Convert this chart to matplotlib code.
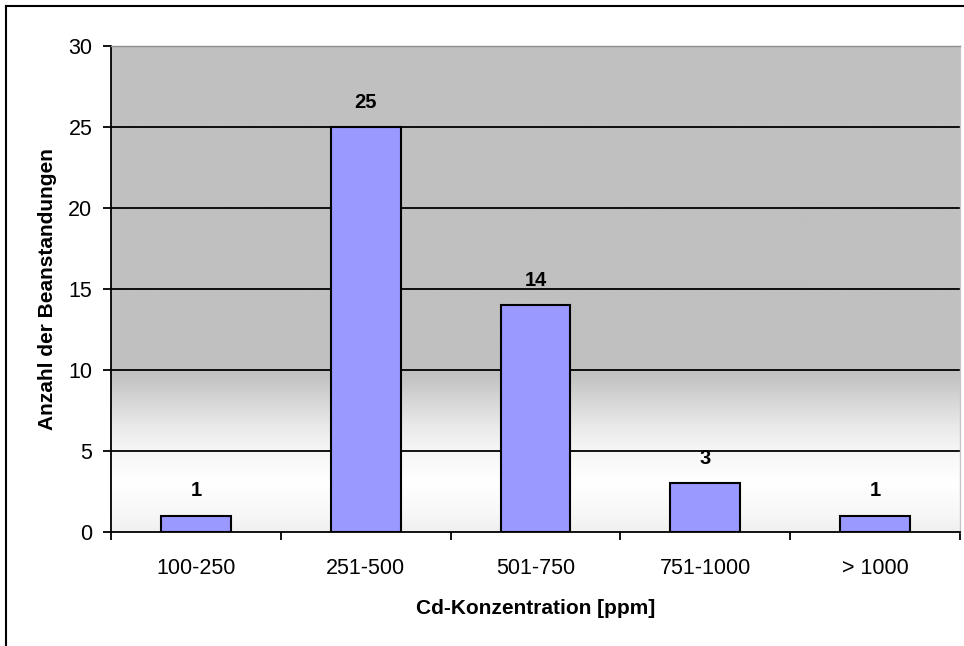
import numpy as np
import matplotlib
matplotlib.use("Agg")
import matplotlib.pyplot as plt
from matplotlib.colors import LinearSegmentedColormap

plt.rcParams['font.family'] = ['Liberation Sans', 'DejaVu Sans']

categories = ["100-250", "251-500", "501-750", "751-1000", "> 1000"]
counts = [1, 25, 14, 3, 1]
y_ticks = [0, 5, 10, 15, 20, 25, 30]

W, H = 964, 646
fig = plt.figure(figsize=(W / 100, H / 100), dpi=100)
fig.patch.set_facecolor("white")

# outer chart frame (top/left edges visible)
fig.add_artist(plt.Line2D([6 / W, 6 / W], [0, 1 - 6 / H], color="black", lw=1.5))
fig.add_artist(plt.Line2D([6 / W, 1], [1 - 6 / H, 1 - 6 / H], color="black", lw=1.5))

left, right, top, bottom = 111, 960, 46, 532
ax = fig.add_axes([left / W, 1 - bottom / H, (right - left) / W, (bottom - top) / H])

x = np.arange(len(categories))
ax.set_xlim(-0.5, len(categories) - 0.5)
ax.set_ylim(0, 30)

# gray-to-white gradient backdrop
stops = [(0.0, "#f0f0f0"), (0.04, "#f8f8f8"), (0.10, "#ffffff"),
         (0.17, "#f5f5f5"), (0.22, "#e8e8e8"), (0.27, "#d6d6d6"),
         (0.31, "#c6c6c6"), (0.335, "#c0c0c0"), (1.0, "#c0c0c0")]
cmap = LinearSegmentedColormap.from_list("bg", stops)
grad = np.linspace(0, 1, 512).reshape(-1, 1)
ax.imshow(grad, cmap=cmap, aspect="auto", origin="lower",
          extent=[-0.5, len(categories) - 0.5, 0, 30], zorder=0)

for yv in y_ticks[1:-1]:
    ax.axhline(yv, color="black", lw=1.3, zorder=1)

bars = ax.bar(x, counts, width=0.41, color="#9999ff", edgecolor="black",
              linewidth=1.5, zorder=2)
for xi, c in zip(x, counts):
    ax.text(xi, c + 0.95, str(c), ha="center", va="bottom", fontsize=14.5,
            fontweight="bold", zorder=3)

ax.spines["left"].set_color("black")
ax.spines["left"].set_linewidth(1.3)
ax.spines["bottom"].set_color("black")
ax.spines["bottom"].set_linewidth(1.3)
ax.spines["top"].set_color("#909090")
ax.spines["top"].set_linewidth(1.0)
ax.spines["right"].set_color("#c8c8c8")
ax.spines["right"].set_linewidth(1.0)

ax.set_yticks(y_ticks)
ax.tick_params(axis="y", direction="out", length=5.5, width=1.3, labelsize=15.5, pad=8)
ax.set_xticks(np.arange(-0.5, len(categories), 1.0))
ax.set_xticklabels([])
ax.set_xticks(x, minor=True)
ax.set_xticklabels(categories, minor=True)
ax.tick_params(axis="x", which="major", direction="out", length=6, width=1.3)
ax.tick_params(axis="x", which="minor", length=0, labelsize=15.5, pad=19)

ax.set_xlabel("Cd-Konzentration [ppm]", fontsize=15, fontweight="bold", labelpad=14)
ax.set_ylabel("Anzahl der Beanstandungen", fontsize=15, fontweight="bold", labelpad=8)

fig.savefig("out.png", dpi=100, facecolor="white")
